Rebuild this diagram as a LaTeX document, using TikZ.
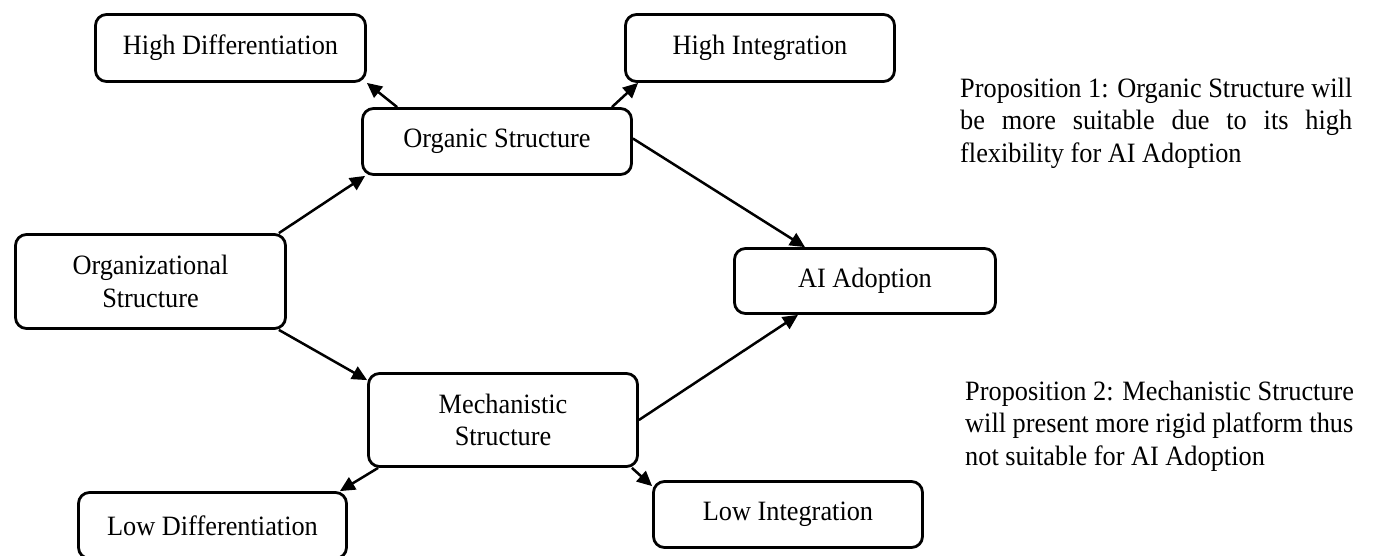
\documentclass[tikz,border=0pt]{standalone}
\usepackage{fontspec}
\setmainfont{Liberation Serif}[FakeStretch=0.94]
\usetikzlibrary{arrows.meta}
\tikzset{
  box/.style={draw, line width=2.8pt, rounded corners=11pt, inner sep=0pt, align=center},
  conn/.style={line width=2.5pt, -{Triangle[length=15pt,width=14pt]}},
  prop/.style={anchor=base west, inner sep=0pt}
}
\begin{document}
\begin{tikzpicture}[x=1pt, y=-1pt, font=\fontsize{28}{32.5}\selectfont]
\useasboundingbox (0,0) rectangle (1377,555);
\clip (0,0) rectangle (1377,555);
\node[box, minimum width=270pt, minimum height=67pt] (hdiff) at (230.5,48) {High Differentiation};
\node[box, minimum width=269pt, minimum height=67pt] (hint) at (760,48) {High Integration};
\node[box, minimum width=269pt, minimum height=66pt] (organic) at (497,141.5) {Organic Structure};
\node[box, minimum width=270pt, minimum height=94pt] (org) at (150.5,281.5) {Organizational\\Structure};
\node[box, minimum width=261pt, minimum height=65pt] (ai) at (865,281) {AI Adoption};
\node[box, minimum width=269pt, minimum height=93pt] (mech) at (503,420) {Mechanistic\\Structure};
\node[box, minimum width=268pt, minimum height=66pt] (ldiff) at (212.5,525.5) {Low Differentiation};
\node[box, minimum width=269pt, minimum height=66pt] (lint) at (788,514.5) {Low Integration};

\draw[conn] ([xshift=36pt]organic.north west) -- (hdiff.south east);
\draw[conn] ([xshift=-21pt]organic.north east) -- ([xshift=14pt]hint.south west);
\draw[conn] ([xshift=-8pt]org.north east) -- ([xshift=4pt]organic.south west);
\draw[conn] ([xshift=-8pt]org.south east) -- ([yshift=-8pt]mech.north west);
\draw[conn] ([yshift=3pt]organic.east) -- ([xshift=-60pt]ai.north);
\draw[conn] (mech.east) -- ([xshift=-67pt]ai.south);
\draw[conn] ([xshift=11pt]mech.south west) -- ([xshift=-8pt]ldiff.north east);
\draw[conn] ([xshift=-7pt]mech.south east) -- ([yshift=-6pt]lint.north west);

\node[prop] (p1) at (960,97) {\begin{tabular}[t]{@{}l@{}}Proposition 1: Organic Structure will\\\makebox[392pt][s]{be more suitable due to its high}\\flexibility for AI Adoption\end{tabular}};
\node[prop] (p2) at (965,400) {\begin{tabular}[t]{@{}l@{}}Proposition 2: Mechanistic Structure\\will present more rigid platform thus\\not suitable for AI Adoption\end{tabular}};
\end{tikzpicture}
\end{document}
